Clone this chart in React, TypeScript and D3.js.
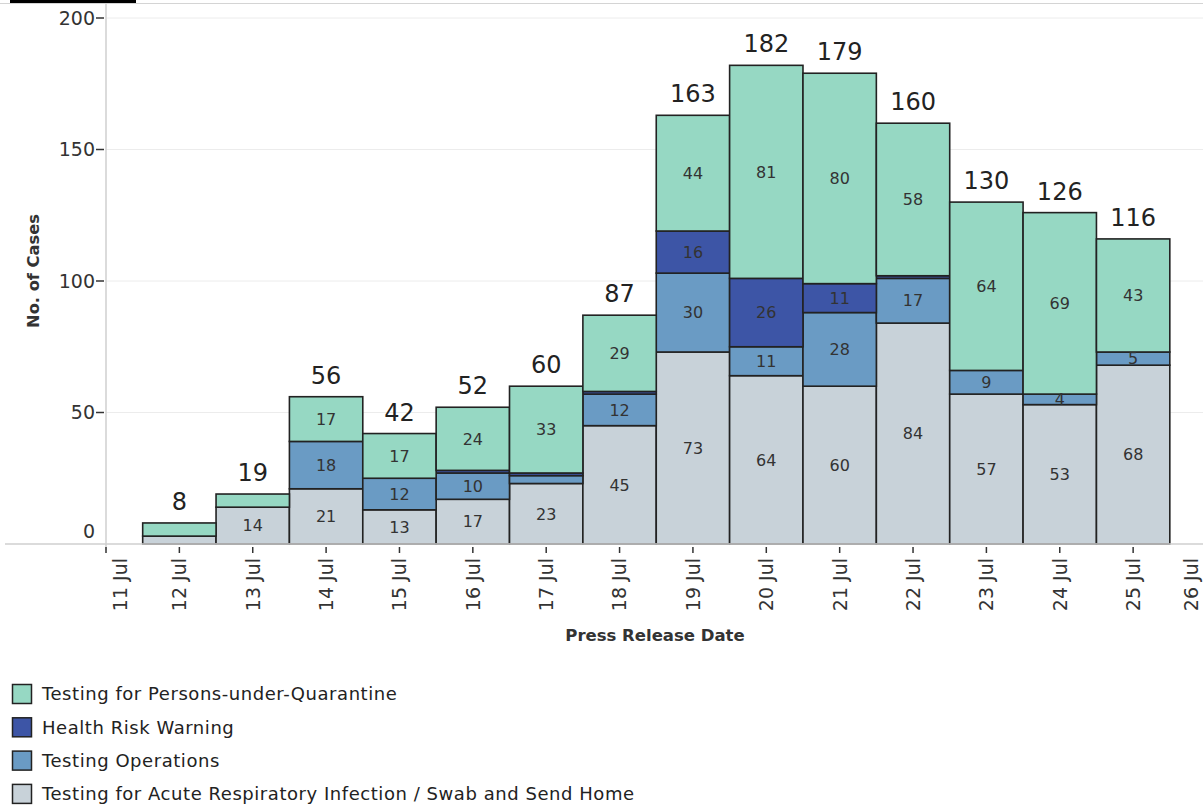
import React from "react";
import * as d3 from "d3";

// press release dates (one bar each)
const dates = ["12 Jul", "13 Jul", "14 Jul", "15 Jul", "16 Jul", "17 Jul", "18 Jul", "19 Jul", "20 Jul", "21 Jul", "22 Jul", "23 Jul", "24 Jul", "25 Jul"];
// stacked from the bottom up
const acuteResp = [3, 14, 21, 13, 17, 23, 45, 73, 64, 60, 84, 57, 53, 68];
const testingOps = [0, 0, 18, 12, 10, 3, 12, 30, 11, 28, 17, 9, 4, 5];
const healthRisk = [0, 0, 0, 0, 1, 1, 1, 16, 26, 11, 1, 0, 0, 0];
const quarantine = [5, 5, 17, 17, 24, 33, 29, 44, 81, 80, 58, 64, 69, 43];

const axisDays = ["11 Jul", "12 Jul", "13 Jul", "14 Jul", "15 Jul", "16 Jul", "17 Jul", "18 Jul", "19 Jul", "20 Jul", "21 Jul", "22 Jul", "23 Jul", "24 Jul", "25 Jul", "26 Jul"];
const yTicks = [0, 50, 100, 150, 200];
// segments Tableau left without a mark label
const unlabelled = ["12 Jul|quarantine", "13 Jul|quarantine"];

const series = [
  { key: "acuteResp", name: "Testing for Acute Respiratory Infection / Swab and Send Home", color: "#c8d2d9" },
  { key: "testingOps", name: "Testing Operations", color: "#6a9bc4" },
  { key: "healthRisk", name: "Health Risk Warning", color: "#3d55a6" },
  { key: "quarantine", name: "Testing for Persons-under-Quarantine", color: "#96d8c3" },
];
const legendOrder = ["quarantine", "healthRisk", "testingOps", "acuteResp"];

const FONT = "'DejaVu Sans', sans-serif";
const parse = d3.utcParse("%d %b %Y");
const toDate = (s: string) => parse(s + " 2020") as Date;

export default function App() {
  const W = 1203, H = 805;
  const left = 106, right = 1206.5, base = 544, top = 18;

  const x = d3.scaleUtc().domain([toDate(axisDays[0]), toDate(axisDays[axisDays.length - 1])]).range([left, right]);
  const y = d3.scaleLinear().domain([0, 200]).range([base, top]);
  const color = d3.scaleOrdinal<string, string>().domain(series.map(s => s.key)).range(series.map(s => s.color));

  const rows = dates.map((d, i) => ({
    date: d,
    acuteResp: acuteResp[i],
    testingOps: testingOps[i],
    healthRisk: healthRisk[i],
    quarantine: quarantine[i],
  }));
  const stacked = d3.stack<any>().keys(series.map(s => s.key))(rows);
  const totals = rows.map(r => r.acuteResp + r.testingOps + r.healthRisk + r.quarantine);
  const dayW = x(toDate("12 Jul")) - x(toDate("11 Jul"));

  return (
    <svg width={W} height={H} style={{ position: "absolute", left: 0, top: 0, background: "#fff" }} fontFamily={FONT}>
      {/* cropped title remnants */}
      <rect x={10} y={0} width={126} height={3} fill="#000" />
      <line x1={0} x2={W} y1={3.5} y2={3.5} stroke="#d4d4d4" />

      {/* gridlines */}
      {yTicks.filter(t => t > 0).map(t => (
        <line key={t} x1={left} x2={W} y1={y(t)} y2={y(t)} stroke="#ececec" />
      ))}

      {/* bars */}
      {stacked.map(layer => (
        <g key={layer.key}>
          {layer.map((seg, i) => {
            const v = seg[1] - seg[0];
            if (v <= 0) return null;
            const cx = x(toDate(dates[i]));
            return (
              <rect key={i} x={cx - dayW / 2} width={dayW} y={y(seg[1])} height={y(seg[0]) - y(seg[1])}
                fill={color(layer.key)} stroke="#222" strokeWidth={1.6} />
            );
          })}
        </g>
      ))}

      {/* segment labels */}
      {stacked.map(layer => (
        <g key={"l" + layer.key} fontSize={16} fill="#333" textAnchor="middle">
          {layer.map((seg, i) => {
            const v = seg[1] - seg[0];
            if (v < 4 || unlabelled.includes(dates[i] + "|" + layer.key)) return null;
            return (
              <text key={i} x={x(toDate(dates[i]))} y={(y(seg[0]) + y(seg[1])) / 2} dy="0.36em">{v}</text>
            );
          })}
        </g>
      ))}

      {/* totals */}
      {totals.map((t, i) => (
        <text key={i} x={x(toDate(dates[i]))} y={y(t) - 13} fontSize={24} fill="#222" textAnchor="middle">{t}</text>
      ))}

      {/* axes lines */}
      <line x1={left} x2={left} y1={4} y2={550} stroke="#cfcfcf" strokeWidth={1.5} />
      <line x1={5} x2={W} y1={base} y2={base} stroke="#cfcfcf" strokeWidth={1.5} />

      {/* y ticks */}
      {yTicks.map(t => (
        <g key={t}>
          {t > 0 && <line x1={96} x2={104} y1={y(t)} y2={y(t)} stroke="#333" strokeWidth={1.5} />}
          <text x={95} y={t === 0 ? y(t) - 13 : y(t)} dy="0.36em" textAnchor="end" fontSize={19} fill="#333">{t}</text>
        </g>
      ))}
      <text transform={`translate(39,271) rotate(-90)`} textAnchor="middle" fontSize={16.3} fontWeight="bold" fill="#333">No. of Cases</text>

      {/* x ticks */}
      {axisDays.map(d => {
        const px = x(toDate(d));
        const lx = Math.min(Math.max(px, left + 14), right - 15);
        return (
          <g key={d}>
            <line x1={px} x2={px} y1={547} y2={553} stroke="#333" strokeWidth={1.5} />
            <text transform={`translate(${lx},558) rotate(-90)`} dy="0.36em" textAnchor="end" fontSize={19} fill="#333">{d}</text>
          </g>
        );
      })}
      <text x={655} y={641} textAnchor="middle" fontSize={16.5} fontWeight="bold" fill="#333">Press Release Date</text>

      {/* legend */}
      {legendOrder.map((k, i) => {
        const s = series.find(q => q.key === k)!;
        const cy = 694 + i * 33.3;
        return (
          <g key={k}>
            <rect x={12.5} y={cy - 9.5} width={19} height={19} fill={s.color} stroke="#222" strokeWidth={1.5} />
            <text x={42} y={cy} dy="0.36em" fontSize={18} letterSpacing={0.55} fill="#222">{s.name}</text>
          </g>
        );
      })}
    </svg>
  );
}
